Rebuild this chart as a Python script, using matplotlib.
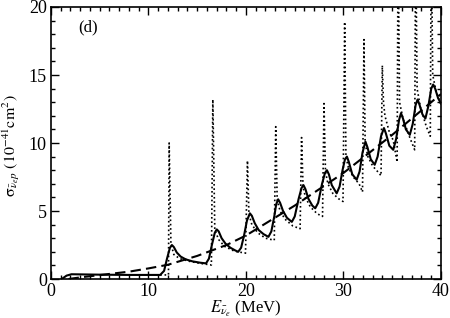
import matplotlib
matplotlib.use("Agg")
import matplotlib.pyplot as plt
from matplotlib.ticker import MultipleLocator

plt.rcParams['font.family'] = ['Liberation Serif', 'DejaVu Serif']
plt.rcParams['mathtext.fontset'] = 'stix'

# Dashed curve (smooth)
dashed_x = [1.8, 3.0, 5.0, 8.0, 10.0, 12.0, 15.0, 18.0, 20.0, 25.0, 30.0, 35.0, 40.0]
dashed_y = [0.0, 0.12, 0.29, 0.54, 0.78, 1.05, 1.7, 2.5, 3.2, 5.4, 7.8, 10.6, 13.6]

# Solid curve (smoothed resonances)
solid_x = [1.1, 1.6, 2.1, 5.0, 8.0, 11.2, 11.6, 11.9, 12.2, 12.4, 12.6, 12.9, 13.3, 13.8, 14.5, 15.3, 15.9,
           16.2, 16.5, 16.8, 17.0, 17.2, 17.5, 17.9, 18.4, 18.9, 19.2, 19.5, 19.8, 20.1, 20.4,
           20.6, 20.9, 21.3, 21.8, 22.3, 22.6, 22.9, 23.1, 23.3,
           23.5, 23.8, 24.2, 24.7, 25.0, 25.4, 25.7, 25.9,
           26.1, 26.4, 26.8, 27.1, 27.4, 27.8, 28.1, 28.3,
           28.5, 28.8, 29.3, 29.6, 29.9, 30.15, 30.35,
           30.55, 30.9, 31.35, 31.65, 31.95, 32.25,
           32.45, 32.8, 33.2, 33.5, 33.85, 34.15,
           34.35, 34.7, 35.1, 35.4, 35.7, 35.9,
           36.1, 36.4, 36.8, 37.1, 37.4, 37.6,
           37.8, 38.1, 38.4, 38.7, 39.0, 39.2,
           39.4, 39.7, 40.0]
solid_y = [0.0, 0.25, 0.35, 0.32, 0.3, 0.3, 0.6, 1.5, 2.3, 2.5, 2.35, 1.95, 1.65, 1.45, 1.3, 1.2, 1.15,
           1.5, 2.5, 3.4, 3.65, 3.5, 3.0, 2.6, 2.3, 2.1, 2.0, 2.3, 3.2, 4.3, 4.83,
           4.65, 4.1, 3.6, 3.3, 3.1, 3.5, 4.6, 5.5, 5.86,
           5.6, 5.0, 4.5, 4.2, 4.6, 5.9, 6.7, 6.9,
           6.6, 5.9, 5.4, 5.2, 5.6, 7.0, 7.8, 8.0,
           7.7, 6.9, 6.3, 6.8, 8.0, 8.8, 9.0,
           8.6, 7.7, 7.3, 7.9, 9.3, 10.1,
           9.7, 8.8, 8.4, 9.0, 10.5, 11.1,
           10.7, 9.8, 9.5, 10.3, 11.7, 12.2,
           11.8, 11.0, 10.6, 11.4, 12.8, 13.2,
           12.8, 12.1, 11.8, 12.7, 14.0, 14.3,
           14.0, 13.3, 12.9]

# Dotted curve (unsmoothed, sharp spikes)
dotted_x = [11.2, 12.05, 12.12, 12.3, 12.6, 13.2, 14.2, 15.3, 16.45,
            16.6, 16.8, 17.2, 17.8, 18.8, 19.95,
            20.15, 20.3, 20.6, 21.2, 22.0, 22.9,
            23.05, 23.2, 23.5, 24.0, 24.8, 25.55,
            25.7, 25.85, 26.1, 26.6, 27.3, 27.85,
            28.0, 28.15, 28.4, 28.9, 29.5, 29.95,
            30.12, 30.25, 30.5, 31.0, 31.6, 31.95,
            32.1, 32.22, 32.5, 33.0, 33.5, 33.85,
            33.98, 34.1, 34.25, 34.7, 35.1, 35.5,
            35.6, 35.75, 36.1, 36.8, 37.3,
            37.4, 37.55, 37.9, 38.5, 38.9,
            39.0, 39.15, 39.5, 40.0]
dotted_y = [0.3, 0.3, 10.0, 2.6, 1.8, 1.5, 1.3, 1.15, 1.03,
            13.2, 3.6, 2.9, 2.4, 2.05, 1.9,
            8.7, 4.8, 4.0, 3.4, 3.0, 2.85,
            11.2, 5.8, 5.0, 4.4, 3.9, 3.7,
            10.4, 6.8, 6.0, 5.3, 4.8, 4.6,
            12.9, 7.9, 7.0, 6.3, 5.9, 5.7,
            18.9, 9.0, 8.2, 7.5, 7.0, 6.4,
            17.6, 10.0, 9.0, 8.3, 7.9, 7.6,
            15.7, 13.0, 12.0, 10.8, 10.2, 8.6,
            25.0, 13.0, 11.8, 10.4, 9.5,
            25.0, 14.0, 12.6, 11.2, 10.5,
            25.0, 15.0, 13.8, 12.8]

fig = plt.figure(figsize=(4.5, 3.18), dpi=100)
ax = fig.add_axes([0.1133, 0.1226, 0.8667, 0.8554])

ax.plot(dotted_x, dotted_y, color='black', lw=1.2, linestyle=(0, (1, 1.6)))
ax.plot(dashed_x, dashed_y, color='black', lw=1.5, linestyle=(0, (5, 2.5)))
ax.plot(solid_x, solid_y, color='black', lw=1.5)

ax.set_xlim(0, 40)
ax.set_ylim(0, 20)
ax.xaxis.set_major_locator(MultipleLocator(10))
ax.xaxis.set_minor_locator(MultipleLocator(1))
ax.yaxis.set_major_locator(MultipleLocator(5))
ax.yaxis.set_minor_locator(MultipleLocator(1))
ax.tick_params(which='both', direction='in', top=True, right=True, labelsize=13, width=1.0)
ax.tick_params(which='major', length=6, pad=3)
ax.tick_params(which='minor', length=3)
for s in ax.spines.values():
    s.set_linewidth(1.2)

ax.set_xlabel(r'$E_{\bar{\nu}_e}$ (MeV)', fontsize=12)
ax.xaxis.set_label_coords(0.5, -0.072)
ax.set_ylabel(r'$\mathrm{\sigma}_{\bar{\nu}_e p}$ $(10^{-41}\mathrm{cm}^2)$', fontsize=11.5)
ax.yaxis.set_label_coords(-0.075, 0.49)
ax.text(2.8, 18.2, '(d)', fontsize=12)

fig.savefig('out.png', dpi=100)
